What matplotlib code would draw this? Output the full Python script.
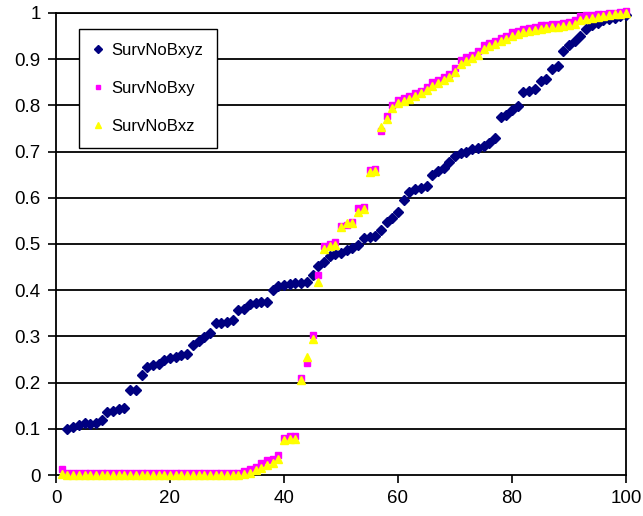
import numpy as np
import matplotlib
matplotlib.use("Agg")
import matplotlib.pyplot as plt

plt.rcParams['font.family'] = ['Liberation Sans', 'DejaVu Sans']

# Survival curves (sorted), one value per run index
x_xyz = list(range(2, 101))
surv_xyz = [
    0.100, 0.103, 0.108, 0.113, 0.110, 0.112, 0.120, 0.137, 0.138, 0.143,  # 2-11
    0.146, 0.184, 0.184, 0.216, 0.233, 0.238, 0.241, 0.250, 0.253, 0.256,  # 12-21
    0.260, 0.262, 0.281, 0.290, 0.298, 0.307, 0.328, 0.329, 0.332, 0.335,  # 22-31
    0.358, 0.360, 0.370, 0.372, 0.374, 0.375, 0.400, 0.410, 0.411, 0.414,  # 32-41
    0.415, 0.416, 0.418, 0.433, 0.452, 0.462, 0.474, 0.478, 0.480, 0.487,  # 42-51
    0.492, 0.497, 0.512, 0.515, 0.517, 0.530, 0.548, 0.556, 0.570, 0.595,  # 52-61
    0.612, 0.618, 0.622, 0.625, 0.650, 0.658, 0.665, 0.678, 0.690, 0.696,  # 62-71
    0.700, 0.705, 0.708, 0.712, 0.718, 0.730, 0.775, 0.780, 0.790, 0.798,  # 72-81
    0.830, 0.832, 0.835, 0.852, 0.858, 0.878, 0.885, 0.918, 0.930, 0.940,  # 82-91
    0.950, 0.965, 0.975, 0.978, 0.985, 0.988, 0.990, 0.993, 0.995,         # 92-100
]

x_xy = list(range(1, 101))
surv_xy = [
    0.012, 0.005, 0.005, 0.005, 0.005, 0.005, 0.005, 0.005, 0.005, 0.005,  # 1-10
    0.005, 0.005, 0.005, 0.005, 0.005, 0.005, 0.005, 0.005, 0.005, 0.005,  # 11-20
    0.005, 0.005, 0.005, 0.005, 0.005, 0.005, 0.005, 0.005, 0.005, 0.005,  # 21-30
    0.005, 0.005, 0.008, 0.012, 0.018, 0.025, 0.032, 0.035, 0.043, 0.080,  # 31-40
    0.085, 0.085, 0.210, 0.242, 0.302, 0.432, 0.495, 0.500, 0.505, 0.540,  # 41-50
    0.542, 0.548, 0.578, 0.580, 0.660, 0.662, 0.745, 0.778, 0.800, 0.812,  # 51-60
    0.816, 0.820, 0.826, 0.832, 0.840, 0.850, 0.855, 0.862, 0.868, 0.880,  # 61-70
    0.898, 0.905, 0.910, 0.918, 0.930, 0.936, 0.940, 0.946, 0.950, 0.958,  # 71-80
    0.962, 0.965, 0.968, 0.970, 0.974, 0.975, 0.976, 0.977, 0.978, 0.980,  # 81-90
    0.984, 0.993, 0.995, 0.996, 0.997, 0.998, 1.000, 1.000, 1.002, 1.004,  # 91-100
]

x_xz = list(range(1, 101))
surv_xz = [
    0.003, 0.000, 0.000, 0.000, 0.000, 0.000, 0.000, 0.000, 0.000, 0.000,  # 1-10
    0.000, 0.000, 0.000, 0.000, 0.000, 0.000, 0.000, 0.000, 0.000, 0.000,  # 11-20
    0.000, 0.000, 0.000, 0.000, 0.000, 0.000, 0.000, 0.000, 0.000, 0.000,  # 21-30
    0.000, 0.000, 0.002, 0.005, 0.010, 0.015, 0.022, 0.027, 0.035, 0.075,  # 31-40
    0.078, 0.078, 0.205, 0.255, 0.295, 0.418, 0.490, 0.495, 0.498, 0.537,  # 41-50
    0.545, 0.545, 0.570, 0.575, 0.656, 0.658, 0.754, 0.770, 0.795, 0.806,  # 51-60
    0.810, 0.814, 0.820, 0.826, 0.834, 0.843, 0.848, 0.855, 0.862, 0.872,  # 61-70
    0.890, 0.897, 0.903, 0.910, 0.922, 0.928, 0.933, 0.939, 0.944, 0.950,  # 71-80
    0.955, 0.958, 0.961, 0.963, 0.966, 0.968, 0.969, 0.970, 0.971, 0.973,  # 81-90
    0.977, 0.985, 0.988, 0.990, 0.992, 0.994, 0.996, 0.997, 0.998, 1.000,  # 91-100
]

x_ticks = [0, 20, 40, 60, 80, 100]
y_ticks = [0, 0.1, 0.2, 0.3, 0.4, 0.5, 0.6, 0.7, 0.8, 0.9, 1]
y_labels = ['0', '0.1', '0.2', '0.3', '0.4', '0.5', '0.6', '0.7', '0.8', '0.9', '1']

fig = plt.figure(figsize=(6.43, 5.16), dpi=100)
ax = fig.add_axes([56 / 643, 1 - 475 / 516, 570 / 643, 462 / 516])

for y in y_ticks[1:]:
    ax.axhline(y, color='black', lw=1.3, zorder=1)

ax.plot(x_xyz, surv_xyz, ls='none', marker='D', ms=5.2, color='#000080',
        mec='#000080', label='SurvNoBxyz', zorder=3, clip_on=False)
ax.plot(x_xy, surv_xy, ls='none', marker='s', ms=4.3, color='#FF00FF',
        mec='#FF00FF', label='SurvNoBxy', zorder=4, clip_on=False)
ax.plot(x_xz, surv_xz, ls='none', marker='^', ms=5.2, color='#FFFF00',
        mec='#FFFF00', label='SurvNoBxz', zorder=5, clip_on=False)

ax.set_xlim(0, 100)
ax.set_ylim(0, 1)
ax.set_xticks(x_ticks)
ax.set_yticks(y_ticks)
ax.set_yticklabels(y_labels)
ax.tick_params(axis='both', direction='out', length=6, width=1.2,
               labelsize=13.5, colors='black', pad=5)
for side in ['left', 'bottom', 'right', 'top']:
    ax.spines[side].set_color('black')
    ax.spines[side].set_linewidth(1.3)

leg = ax.legend(loc='upper left', bbox_to_anchor=(0.04, 0.965), borderaxespad=0,
                fancybox=False, edgecolor='black', framealpha=1, fontsize=12,
                labelspacing=1.4, handlelength=0.7, handletextpad=0.45,
                borderpad=0.8, markerscale=0.8)
leg.get_frame().set_linewidth(1.0)

fig.savefig('out.png', dpi=100)
